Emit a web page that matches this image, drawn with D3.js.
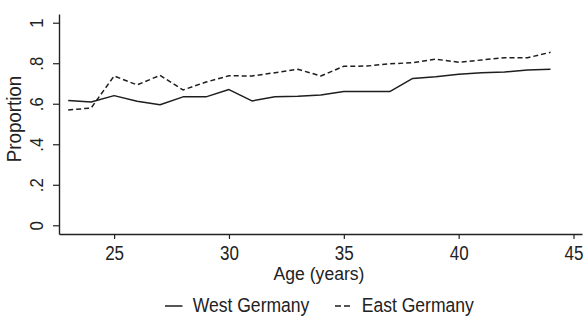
<!DOCTYPE html>
<html>
<head>
<meta charset="utf-8">
<script src="https://cdn.jsdelivr.net/npm/d3@7"></script>
<style>
  body { margin: 0; background: #fff; }
  svg { display: block; }
  text { font-family: "Liberation Sans", Arial, sans-serif; fill: #222; }
</style>
</head>
<body>
<div id="chart"></div>
<script>
// values
var ages = [23,24,25,26,27,28,29,30,31,32,33,34,35,36,37,38,39,40,41,42,43,44];
var west = [0.616,0.609,0.640,0.612,0.595,0.634,0.634,0.670,0.614,0.635,0.637,0.643,0.660,0.660,0.660,0.725,0.733,0.745,0.753,0.757,0.767,0.770];
var east = [0.569,0.579,0.737,0.693,0.740,0.668,0.707,0.738,0.737,0.753,0.770,0.737,0.785,0.786,0.797,0.803,0.820,0.805,0.816,0.827,0.827,0.854];
var xTicks = [25,30,35,40,45];
var yTicks = [0,0.2,0.4,0.6,0.8,1];
var yTickLabels = ["0",".2",".4",".6",".8","1"];
var seriesNames = ["West Germany","East Germany"];

var width = 586, height = 316;
var svg = d3.select("#chart").append("svg")
  .attr("width",width).attr("height",height);
svg.append("rect").attr("width",width).attr("height",height).attr("fill","#fff");

var xScale = d3.scaleLinear().domain([22.6,45.37]).range([59,582]);
var yScale = d3.scaleLinear().domain([-0.043,1.043]).range([234,14]);

// x axis
var xAxis = d3.axisBottom(xScale).tickValues(xTicks).tickSize(5).tickSizeOuter(0);
var gx = svg.append("g").attr("transform","translate(0,234)").call(xAxis);
gx.select(".domain").attr("stroke","#222").attr("stroke-width",1.4);
gx.selectAll(".tick line").attr("stroke","#222").attr("stroke-width",1.2);
gx.selectAll(".tick text")
  .attr("y",null).attr("dy",null)
  .attr("font-size",18.5)
  .attr("fill","#222")
  .attr("transform","translate(0,25.6) scale(0.92,1.05)");

// y axis
var yAxis = d3.axisLeft(yScale).tickValues(yTicks).tickSize(6).tickSizeOuter(0)
  .tickFormat(function(d,i){ return yTickLabels[i]; });
var gy = svg.append("g").attr("transform","translate(59,0)").call(yAxis);
gy.select(".domain").attr("stroke","#222").attr("stroke-width",1.4);
gy.selectAll(".tick line").attr("stroke","#222").attr("stroke-width",1.2);
gy.selectAll(".tick text")
  .attr("x",null).attr("dy",null)
  .attr("font-size",19)
  .attr("text-anchor","middle")
  .attr("fill","#222")
  .attr("transform","translate(-16.5,0) rotate(-90) scale(0.88,1)");
svg.selectAll(".tick text").style("font-family","'Liberation Sans', Arial, sans-serif");

// axis titles
svg.append("text")
  .attr("text-anchor","middle").attr("font-size",18.5)
  .attr("transform","translate(319,280.2) scale(0.95,1)")
  .text("Age (years)");
svg.append("text")
  .attr("text-anchor","middle").attr("font-size",19.5)
  .attr("transform","translate(20.5,119) rotate(-90) scale(0.96,1)")
  .text("Proportion");

// lines
var line = d3.line()
  .x(function(d){ return xScale(d[0]); })
  .y(function(d){ return yScale(d[1]); });
var series = [
  {name:seriesNames[0], values:west, dash:null},
  {name:seriesNames[1], values:east, dash:"5,3"}
];
svg.selectAll("path.series").data(series).enter().append("path")
  .attr("class","series")
  .attr("d",function(s){ return line(ages.map(function(a,i){ return [a,s.values[i]]; })); })
  .attr("fill","none")
  .attr("stroke","#1e1e1e")
  .attr("stroke-width",1.5)
  .attr("stroke-linejoin","round")
  .attr("stroke-dasharray",function(s){ return s.dash; });

// legend
var legendX = [165,335];
var lg = svg.selectAll("g.legend").data(series).enter().append("g")
  .attr("class","legend")
  .attr("transform",function(s,i){ return "translate(" + legendX[i] + ",0)"; });
lg.append("line")
  .attr("x1",0).attr("x2",function(s){ return s.dash ? 15 : 17.5; })
  .attr("y1",306).attr("y2",306)
  .attr("stroke","#1e1e1e").attr("stroke-width",1.5)
  .attr("stroke-dasharray",function(s){ return s.dash ? "6,3" : null; });
lg.append("text")
  .attr("font-size",19.5)
  .attr("transform",function(s){ return "translate(" + (s.dash ? 26.7 : 27.7) + ",312) scale(0.9,1)"; })
  .text(function(s){ return s.name; });
</script>
</body>
</html>
